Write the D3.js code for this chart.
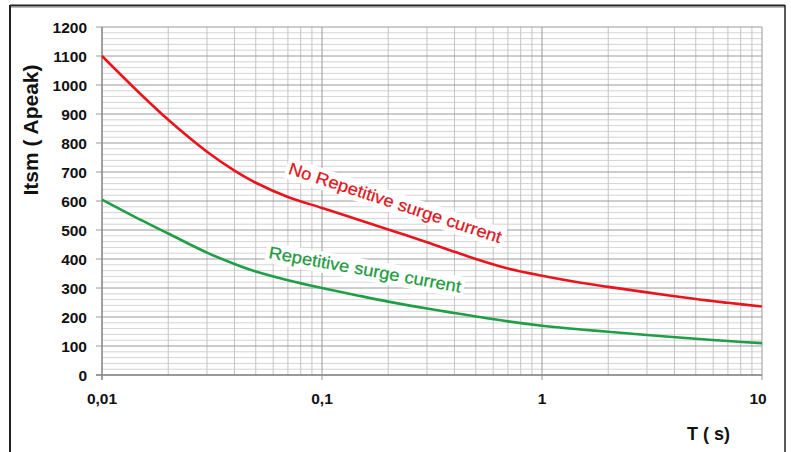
<!DOCTYPE html>
<html><head><meta charset="utf-8">
<script src="https://cdn.jsdelivr.net/npm/d3@7"></script>
<style>
html,body{margin:0;padding:0;background:#fff;}
svg{display:block;font-family:Arial,"Liberation Sans",sans-serif;}
</style></head>
<body>
<svg id="c" width="791" height="452"></svg>
<script>
// ---- data ----
const times = [0.01,0.015,0.02,0.03,0.04,0.05,0.07,0.1,0.15,0.2,0.3,0.4,0.5,0.7,1,1.5,2,3,5,7,10];
const nonRepetitive = [1100,968,880,770,705,663,614,576,533,502,458,425,400,367,342,318,304,285,262,249,236];
const repetitive = [605,535,488,422,383,357,327,300,272,253,229,214,202,185,170,157,149,138,125,117,110];
const xTicks = [0.01,0.1,1,10];
const xTickLabels = ["0,01","0,1","1","10"];
const yTicks = [0,100,200,300,400,500,600,700,800,900,1000,1100,1200];
const yTitle = "Itsm ( Apeak)";
const xTitle = "T ( s)";
const redLabel = "No Repetitive surge current";
const greenLabel = "Repetitive surge current";

const svg = d3.select("#c");
const x = d3.scaleLog().domain([0.01,10]).range([102,762]);
const y = d3.scaleLinear().domain([0,1200]).range([375,27]);

// frame
svg.append("line").attr("x1",10).attr("x2",785).attr("y1",5.5).attr("y2",5.5).attr("stroke","#222").attr("stroke-width",2);
svg.append("line").attr("x1",10).attr("x2",785).attr("y1",7.5).attr("y2",7.5).attr("stroke","#bbb").attr("stroke-width",1);
svg.append("line").attr("x1",10).attr("x2",10).attr("y1",5).attr("y2",452).attr("stroke","#222").attr("stroke-width",2);
svg.append("line").attr("x1",785).attr("x2",785).attr("y1",5).attr("y2",452).attr("stroke","#222").attr("stroke-width",1.5);

const g = svg.append("g");
// minor horizontal grid every 20
const minorY = d3.range(0,1201,20).filter(v=>v%100!==0);
g.selectAll(".hm").data(minorY).join("line")
  .attr("x1",x(0.01)).attr("x2",x(10)).attr("y1",d=>y(d)).attr("y2",d=>y(d))
  .attr("stroke","#d4d4d4").attr("stroke-width",1);
// minor vertical grid
const minorX = [];
[0.01,0.1,1].forEach(dec=>{for(let k=2;k<=9;k++) minorX.push(dec*k);});
g.selectAll(".vm").data(minorX).join("line")
  .attr("x1",d=>x(d)).attr("x2",d=>x(d)).attr("y1",y(0)).attr("y2",y(1200))
  .attr("stroke","#c4c4c4").attr("stroke-width",1);
// major horizontal
g.selectAll(".hM").data(yTicks).join("line")
  .attr("x1",x(0.01)-6).attr("x2",x(10)).attr("y1",d=>y(d)).attr("y2",d=>y(d))
  .attr("stroke","#9a9a9a").attr("stroke-width",1);
// major vertical
g.selectAll(".vM").data(xTicks).join("line")
  .attr("x1",d=>x(d)).attr("x2",d=>x(d)).attr("y1",y(0)+5).attr("y2",y(1200))
  .attr("stroke","#9a9a9a").attr("stroke-width",1);
g.append("line").attr("x1",x(0.01)).attr("x2",x(0.01)).attr("y1",y(0)+5).attr("y2",y(1200)).attr("stroke","#888").attr("stroke-width",1.3);
g.append("line").attr("x1",x(0.01)-6).attr("x2",x(10)).attr("y1",y(0)).attr("y2",y(0)).attr("stroke","#888").attr("stroke-width",1.3);

// y tick labels
svg.selectAll(".yl").data(yTicks).join("text")
  .attr("x",87).attr("y",d=>y(d)+5.5).attr("text-anchor","end")
  .attr("font-size",15.5).attr("font-weight","bold").attr("fill","#111").text(d=>d);
// x tick labels
svg.selectAll(".xl").data(xTicks).join("text")
  .attr("x",(d,i)=>x(d)-(i===3?4:0)).attr("y",404).attr("text-anchor","middle")
  .attr("font-size",15.5).attr("font-weight","bold").attr("fill","#111").text((d,i)=>xTickLabels[i]);

// titles
svg.append("text").attr("transform","translate(37.5,130) rotate(-90)").attr("text-anchor","middle")
  .attr("font-size",21).attr("font-weight","bold").attr("fill","#111").text(yTitle);
svg.append("text").attr("x",687).attr("y",440).attr("font-size",18).attr("font-weight","bold").attr("fill","#111").text(xTitle);

// curves
const line = d3.line().x((d,i)=>x(times[i])).y(d=>y(d)).curve(d3.curveCatmullRom.alpha(0.5));
svg.append("path").datum(repetitive).attr("d",line).attr("fill","none").attr("stroke","#1e9e46").attr("stroke-width",2.6);
svg.append("path").datum(nonRepetitive).attr("d",line).attr("fill","none").attr("stroke","#e8161c").attr("stroke-width",2.6);

// labels with white backgrounds
function label(txt, px, py, ang, len, color){
  const lg = svg.append("g").attr("transform",`translate(${px},${py}) rotate(${ang})`);
  const r = lg.append("rect").attr("fill","#fff");
  const t = lg.append("text").attr("x",0).attr("y",0).attr("font-size",17)
    .attr("textLength",len).attr("lengthAdjust","spacingAndGlyphs")
    .attr("fill",color).attr("stroke",color).attr("stroke-width",0.25).text(txt);
  const b = t.node().getBBox();
  r.attr("x",b.x-3).attr("y",b.y-1).attr("width",b.width+6).attr("height",b.height+2);
}
label(redLabel, 287.5, 173.5, 18.2, 223, "#e0141c");
label(greenLabel, 268, 258, 10.2, 195, "#1e9a40");
</script>
</body></html>
